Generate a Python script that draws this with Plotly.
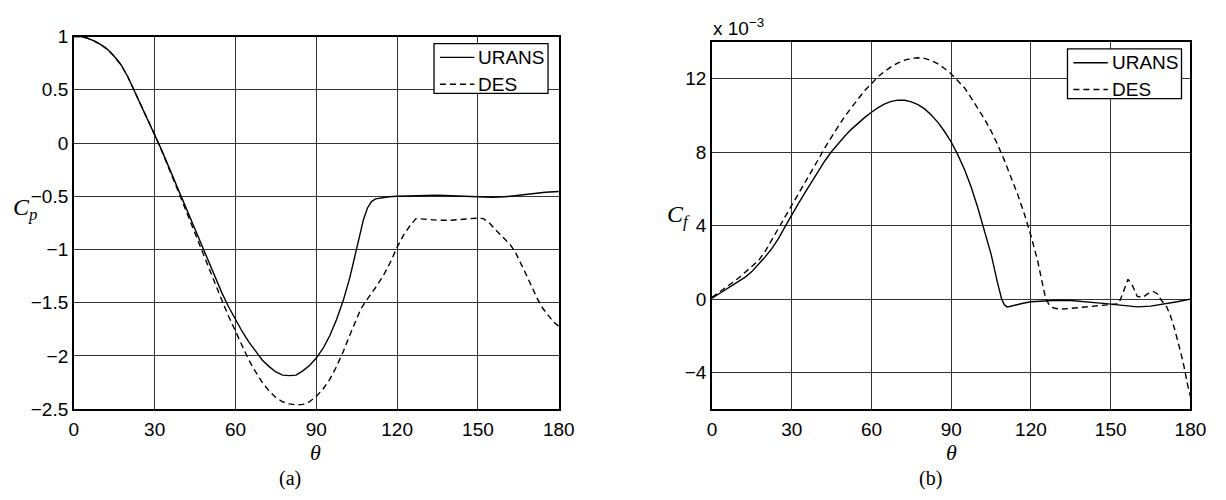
import plotly.graph_objects as go

# ---------------- data ----------------
theta_cp_urans = [0, 2.5, 5, 7.5, 10, 12.5, 15, 17.5, 20, 22.5, 25, 27.5, 30, 32.5, 35, 37.5,
                  40, 42.5, 45, 47.5, 50, 52.5, 55, 57.5, 60, 62.5, 65, 67.5, 70, 72.5, 75, 77.5,
                  80, 82.5, 85, 87.5, 90, 92.5, 95, 97.5, 100, 102.5, 105, 107.5, 109, 110.5, 112,
                  114, 117, 120, 125, 130, 135, 140, 145, 150, 155, 160, 165, 170, 175, 180]
cp_urans = [1.00, 1.00, 0.985, 0.96, 0.925, 0.88, 0.815, 0.735, 0.625, 0.49, 0.36, 0.22, 0.085, -0.06,
            -0.21, -0.36, -0.52, -0.67, -0.82, -0.97, -1.12, -1.26, -1.41, -1.54, -1.66, -1.77, -1.87,
            -1.96, -2.04, -2.10, -2.15, -2.18, -2.185, -2.18, -2.14, -2.09, -2.02, -1.93, -1.81, -1.66,
            -1.48, -1.26, -0.99, -0.72, -0.61, -0.55, -0.525, -0.515, -0.505, -0.50, -0.495, -0.49,
            -0.49, -0.495, -0.50, -0.505, -0.51, -0.505, -0.49, -0.475, -0.462, -0.455]

theta_cp_des = [0, 2.5, 5, 7.5, 10, 12.5, 15, 17.5, 20, 22.5, 25, 27.5, 30, 32.5, 35, 37.5,
                40, 42.5, 45, 47.5, 50, 52.5, 55, 57.5, 60, 62.5, 65, 67.5, 70, 72.5, 75, 77.5,
                80, 82.5, 85, 87.5, 90, 92.5, 95, 97.5, 100, 102.5, 105, 106.5, 108, 110, 112.5,
                115, 117.5, 120, 122.5, 125, 127, 130, 135, 140, 145, 150, 152, 154, 156, 158, 160,
                162, 164, 166, 168, 170, 172, 174, 176, 178, 180]
cp_des = [1.00, 1.00, 0.985, 0.96, 0.925, 0.88, 0.815, 0.735, 0.625, 0.49, 0.36, 0.22, 0.08, -0.065,
          -0.215, -0.37, -0.53, -0.69, -0.85, -1.01, -1.17, -1.33, -1.48, -1.63, -1.77, -1.91, -2.04,
          -2.15, -2.25, -2.33, -2.39, -2.43, -2.45, -2.46, -2.455, -2.43, -2.38, -2.31, -2.22, -2.10,
          -1.96, -1.80, -1.64, -1.56, -1.50, -1.43, -1.34, -1.24, -1.12, -0.98, -0.86, -0.77, -0.71,
          -0.715, -0.725, -0.725, -0.715, -0.705, -0.71, -0.745, -0.80, -0.85, -0.90, -0.955, -1.03,
          -1.13, -1.24, -1.35, -1.46, -1.55, -1.62, -1.68, -1.72]

theta_cf_urans = [0, 2.5, 5, 7.5, 10, 12.5, 15, 17.5, 20, 22.5, 25, 27.5, 30, 32.5, 35, 37.5,
                  40, 42.5, 45, 47.5, 50, 52.5, 55, 57.5, 60, 62.5, 65, 67.5, 70, 72.5, 75, 77.5,
                  80, 82.5, 85, 87.5, 90, 92.5, 95, 97.5, 100, 102.5, 105, 107.5, 109, 110, 111,
                  112, 114, 117, 120, 125, 130, 135, 140, 145, 150, 155, 160, 165, 170, 175, 180]
cf_urans = [0.05, 0.28, 0.5, 0.72, 0.95, 1.2, 1.5, 1.88, 2.3, 2.75, 3.3, 3.95, 4.6, 5.2, 5.8, 6.4,
            6.98, 7.53, 8.03, 8.48, 8.88, 9.25, 9.58, 9.89, 10.17, 10.42, 10.62, 10.76, 10.83, 10.82,
            10.73, 10.58, 10.35, 10.02, 9.62, 9.12, 8.55, 7.85, 7.05, 6.1, 4.97, 3.75, 2.45, 0.85, 0.0,
            -0.3, -0.42, -0.40, -0.32, -0.22, -0.14, -0.08, -0.06, -0.07, -0.12, -0.20, -0.27, -0.36,
            -0.42, -0.38, -0.28, -0.14, 0.0]

theta_cf_des = [0, 2.5, 5, 7.5, 10, 12.5, 15, 17.5, 20, 22.5, 25, 27.5, 30, 32.5, 35, 37.5,
                40, 42.5, 45, 47.5, 50, 52.5, 55, 57.5, 60, 62.5, 65, 67.5, 70, 72.5, 75, 77.5,
                80, 82.5, 85, 87.5, 90, 92.5, 95, 97.5, 100, 102.5, 105, 107.5, 110, 112.5, 115,
                117.5, 120, 122.5, 124, 125.5, 127, 128.5, 130, 132, 135, 140, 145, 150, 153, 154.5,
                156.5, 158, 160, 162, 164, 166, 167.5, 169, 171, 172.5, 174, 176, 177.5, 179, 180]
cf_des = [0.1, 0.35, 0.62, 0.88, 1.15, 1.45, 1.75, 2.1, 2.6, 3.2, 3.85, 4.48, 5.1, 5.7, 6.3, 6.95,
          7.6, 8.25, 8.85, 9.4, 9.95, 10.45, 10.9, 11.35, 11.75, 12.1, 12.4, 12.65, 12.85, 13.0, 13.1,
          13.13, 13.1, 12.98, 12.8, 12.55, 12.25, 11.9, 11.5, 10.95, 10.4, 9.8, 9.15, 8.4, 7.55, 6.65,
          5.7, 4.65, 3.45, 2.1, 1.0, 0.05, -0.35, -0.48, -0.52, -0.53, -0.5, -0.43, -0.37, -0.31,
          -0.25, 0.3, 1.08, 0.8, 0.15, 0.1, 0.3, 0.42, 0.3, -0.05, -0.4, -0.9, -1.6, -2.7, -3.6,
          -4.7, -5.3]

x_ticks = [0, 30, 60, 90, 120, 150, 180]
x_ticktext = ["0", "30", "60", "90", "120", "150", "180"]
cp_ticks = [1, 0.5, 0, -0.5, -1, -1.5, -2, -2.5]
cp_ticktext = ["1", "0.5", "0", "\u22120.5", "\u22121", "\u22121.5", "\u22122", "\u22122.5"]
cf_ticks = [-4, 0, 4, 8, 12]
cf_ticktext = ["\u22124", "0", "4", "8", "12"]
series_names = ["URANS", "DES"]

# ---------------- figure ----------------
W, H = 1226, 500
SANS = "Liberation Sans, Arial, sans-serif"
SERIF = "Liberation Serif, Times New Roman, serif"
DASH = "6px,4px"

fig = go.Figure()
line_solid = dict(color="black", width=1.4)
line_dash = dict(color="black", width=1.4, dash=DASH)

fig.add_trace(go.Scatter(x=theta_cp_urans, y=cp_urans, mode="lines", name=series_names[0],
                         line=line_solid, xaxis="x", yaxis="y", showlegend=False))
fig.add_trace(go.Scatter(x=theta_cp_des, y=cp_des, mode="lines", name=series_names[1],
                         line=line_dash, xaxis="x", yaxis="y", showlegend=False))
fig.add_trace(go.Scatter(x=theta_cf_urans, y=cf_urans, mode="lines", name=series_names[0],
                         line=line_solid, xaxis="x2", yaxis="y2", showlegend=False))
fig.add_trace(go.Scatter(x=theta_cf_des, y=cf_des, mode="lines", name=series_names[1],
                         line=line_dash, xaxis="x2", yaxis="y2", showlegend=False))

axis_common = dict(showgrid=True, gridcolor="#333333", gridwidth=1, showline=True,
                   linecolor="black", linewidth=1.5, mirror=True, zeroline=False,
                   ticks="", tickfont=dict(family=SANS, size=19, color="black"))

fig.update_layout(
    width=W, height=H, margin=dict(l=0, r=0, t=0, b=0),
    paper_bgcolor="white", plot_bgcolor="white", showlegend=False,
    xaxis=dict(domain=[70 / W, 563.4 / W], range=[0, 180], tickmode="array",
               tickvals=x_ticks, ticktext=x_ticktext, anchor="y", ticklabelstandoff=2,
               **axis_common),
    yaxis=dict(domain=[1 - 416.7 / H, 1 - 27.7 / H], range=[-2.5, 1], tickmode="array",
               tickvals=cp_ticks, ticktext=cp_ticktext, anchor="x", **axis_common),
    xaxis2=dict(domain=[719.3 / W, 1206.1 / W], range=[0, 180], tickmode="array",
                tickvals=x_ticks, ticktext=x_ticktext, anchor="y2", ticklabelstandoff=2,
                **axis_common),
    yaxis2=dict(domain=[1 - 417.0 / H, 1 - 33.2 / H], range=[-6, 14], tickmode="array",
                tickvals=cf_ticks, ticktext=cf_ticktext, anchor="x2", **axis_common),
)

# ---- legends (boxed, MATLAB style) ----
def add_legend(left, top):
    w, h = 116, 52
    fig.add_shape(type="rect", xref="paper", yref="paper",
                  x0=left / W, x1=(left + w) / W, y0=1 - (top + h) / H, y1=1 - top / H,
                  line=dict(color="black", width=1.3), fillcolor="white", layer="above")
    rows = [(series_names[0], "solid", 14.5), (series_names[1], DASH, 42.5)]
    for name, dash, dy in rows:
        fig.add_shape(type="line", xref="paper", yref="paper",
                      x0=(left + 6) / W, x1=(left + 41) / W,
                      y0=1 - (top + dy) / H, y1=1 - (top + dy) / H,
                      line=dict(color="black", width=1.4, dash=dash), layer="above")
        fig.add_annotation(xref="paper", yref="paper", showarrow=False, xanchor="left",
                           yanchor="middle", x=(left + 43) / W, y=1 - (top + dy) / H,
                           text=name, font=dict(family=SANS, size=19, color="black"))

add_legend(436.5, 35)
add_legend(1081, 40.5)

annots = [
    dict(text="<i>C<sub>p</sub></i>", x=20.5 / W, y=1 - 208 / H, size=24, anchor="middle"),
    dict(text="<i>C<sub>f</sub></i>", x=685 / W, y=1 - 215 / H, size=24, anchor="middle"),
    dict(text="<i>\u03b8</i>", x=316 / W, y=1 - 447 / H, size=22, anchor="top"),
    dict(text="<i>\u03b8</i>", x=963 / W, y=1 - 447 / H, size=22, anchor="top"),
    dict(text="(a)", x=290 / W, y=1 - 489 / H, size=20, anchor="middle"),
    dict(text="(b)", x=942 / W, y=1 - 489 / H, size=20, anchor="middle"),
]
for a in annots:
    fig.add_annotation(xref="paper", yref="paper", showarrow=False, xanchor="center",
                       yanchor=a["anchor"], x=a["x"], y=a["y"], text=a["text"],
                       font=dict(family=SERIF, size=a["size"], color="black"))

fig.add_annotation(xref="paper", yref="paper", showarrow=False, xanchor="left", yanchor="bottom",
                   x=718 / W, y=1 - 32 / H, text="x 10<sup>\u22123</sup>",
                   font=dict(family=SANS, size=19, color="black"))

fig.write_html("out.html")
